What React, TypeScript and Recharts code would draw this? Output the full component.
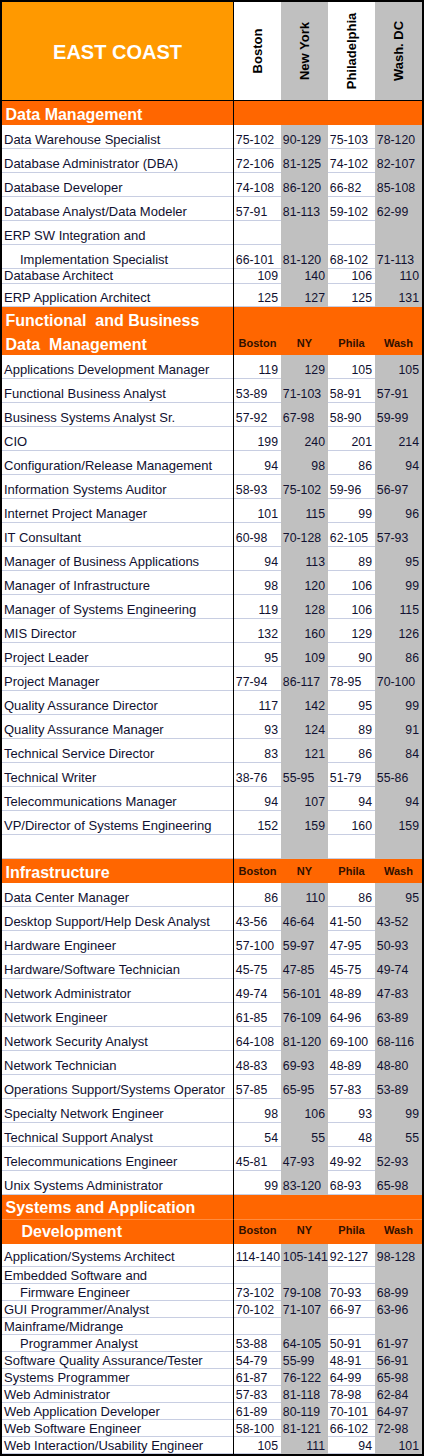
import { ScatterChart, Scatter, XAxis, YAxis } from "recharts";

const REGION = "EAST COAST";
const CITY_KEYS = ["boston", "ny", "phila", "wash"];
const CITY_NAMES = ["Boston", "New York", "Philadelphia", "Wash. DC"];
const CITY_SHORT = ["Boston", "NY", "Phila", "Wash"];

// Data Management
const DM_HEADING = ["Data Management"];
const DM_TITLES = [
  "Data Warehouse Specialist",
  "Database Administrator (DBA)",
  "Database Developer",
  "Database Analyst/Data Modeler",
  "ERP SW Integration and",
  "Implementation Specialist",
  "Database Architect",
  "ERP Application Architect",
];
const DM_BOSTON = ["75-102", "72-106", "74-108", "57-91", "", "66-101", "109", "125"];
const DM_NY = ["90-129", "81-125", "86-120", "81-113", "", "81-120", "140", "127"];
const DM_PHILA = ["75-103", "74-102", "66-82", "59-102", "", "68-102", "106", "125"];
const DM_WASH = ["78-120", "82-107", "85-108", "62-99", "", "71-113", "110", "131"];

// Functional and Business Data Management
const FB_HEADING = ["Functional  and Business", "Data  Management"];
const FB_TITLES = [
  "Applications Development Manager",
  "Functional Business Analyst",
  "Business Systems Analyst Sr.",
  "CIO",
  "Configuration/Release Management",
  "Information Systems Auditor",
  "Internet Project Manager",
  "IT Consultant",
  "Manager of Business Applications",
  "Manager of Infrastructure",
  "Manager of Systems Engineering",
  "MIS Director",
  "Project Leader",
  "Project Manager",
  "Quality Assurance Director",
  "Quality Assurance Manager",
  "Technical Service Director",
  "Technical Writer",
  "Telecommunications Manager",
  "VP/Director of Systems Engineering",
  "",
];
const FB_BOSTON = ["119", "53-89", "57-92", "199", "94", "58-93", "101", "60-98", "94", "98", "119", "132", "95", "77-94", "117", "93", "83", "38-76", "94", "152", ""];
const FB_NY = ["129", "71-103", "67-98", "240", "98", "75-102", "115", "70-128", "113", "120", "128", "160", "109", "86-117", "142", "124", "121", "55-95", "107", "159", ""];
const FB_PHILA = ["105", "58-91", "58-90", "201", "86", "59-96", "99", "62-105", "89", "106", "106", "129", "90", "78-95", "95", "89", "86", "51-79", "94", "160", ""];
const FB_WASH = ["105", "57-91", "59-99", "214", "94", "56-97", "96", "57-93", "95", "99", "115", "126", "86", "70-100", "99", "91", "84", "55-86", "94", "159", ""];

// Infrastructure
const INF_HEADING = ["Infrastructure"];
const INF_TITLES = [
  "Data Center Manager",
  "Desktop Support/Help Desk Analyst",
  "Hardware Engineer",
  "Hardware/Software Technician",
  "Network Administrator",
  "Network Engineer",
  "Network Security Analyst",
  "Network Technician",
  "Operations Support/Systems Operator",
  "Specialty Network Engineer",
  "Technical Support Analyst",
  "Telecommunications Engineer",
  "Unix Systems Administrator",
];
const INF_BOSTON = ["86", "43-56", "57-100", "45-75", "49-74", "61-85", "64-108", "48-83", "57-85", "98", "54", "45-81", "99"];
const INF_NY = ["110", "46-64", "59-97", "47-85", "56-101", "76-109", "81-120", "69-93", "65-95", "106", "55", "47-93", "83-120"];
const INF_PHILA = ["86", "41-50", "47-95", "45-75", "48-89", "64-96", "69-100", "48-89", "57-83", "93", "48", "49-92", "68-93"];
const INF_WASH = ["95", "43-52", "50-93", "49-74", "47-83", "63-89", "68-116", "48-80", "53-89", "99", "55", "52-93", "65-98"];

// Systems and Application Development
const SAD_HEADING = ["Systems and Application", "Development"];
const SAD_TITLES = [
  "Application/Systems Architect",
  "Embedded Software and",
  "Firmware Engineer",
  "GUI Programmer/Analyst",
  "Mainframe/Midrange",
  "Programmer Analyst",
  "Software Quality Assurance/Tester",
  "Systems Programmer",
  "Web Administrator",
  "Web Application Developer",
  "Web Software Engineer",
  "Web Interaction/Usability Engineer",
];
const SAD_BOSTON = ["114-140", "", "73-102", "70-102", "", "53-88", "54-79", "61-87", "57-83", "61-89", "58-100", "105"];
const SAD_NY = ["105-141", "", "79-108", "71-107", "", "64-105", "55-99", "76-122", "81-118", "80-119", "81-121", "111"];
const SAD_PHILA = ["92-127", "", "70-93", "66-97", "", "50-91", "48-91", "64-99", "78-98", "70-101", "66-102", "94"];
const SAD_WASH = ["98-128", "", "68-99", "63-96", "", "61-97", "56-91", "65-98", "62-84", "64-97", "72-98", "101"];

// second lines of wrapped titles, drawn indented
const INDENTED = ["Implementation Specialist", "Firmware Engineer", "Programmer Analyst", "Development"];

// layout: runs of rows sharing one height (px) and baseline padding
const TOP_RUNS = [{ n: 1, h: 99, pad: 5 }];
const DM_RUNS = [{ n: 7, h: 24, pad: 5 }, { n: 1, h: 15, pad: 4.5 }, { n: 1, h: 23, pad: 5 }];
const FB_RUNS = [{ n: 23, h: 24, pad: 5 }];
const INF_RUNS = [{ n: 14, h: 24, pad: 5 }];
const SAD_RUNS = [{ n: 2, h: 24.5, pad: 7 }, { n: 1, h: 23, pad: 6.5 }, { n: 11, h: 17, pad: 4 }];

const FONT = "'Liberation Sans', Arial, sans-serif";
const CHART_W = 420;
const LABEL_W = 232;
const COL_W = (CHART_W - LABEL_W) / CITY_KEYS.length;
const ORANGE_TOP = "#FF9900";
const ORANGE = "#FF6600";
const GREY = "#C0C0C0";
const RULE = "#C8CEE2";
const INK = "#101030";
const HEAD_INK = "#301000";

type Row = { title: string; kind: "top" | "head" | "item"; cells: string[] };
type Run = { n: number; h: number; pad: number };

const BLANK = ["", "", "", ""];

function sectionRows(heading: string[], cityLabels: boolean, titles: string[], cols: string[][]): Row[] {
  const rows: Row[] = heading.map((t, i) => ({
    title: t,
    kind: "head",
    cells: cityLabels && i === heading.length - 1 ? CITY_SHORT : BLANK,
  }));
  titles.forEach((t, i) => rows.push({ title: t, kind: "item", cells: cols.map((c) => c[i]) }));
  return rows;
}

function splitRuns(rows: Row[], runs: Run[]) {
  let i = 0;
  return runs.map((r) => {
    const part = rows.slice(i, i + r.n);
    i += r.n;
    return { ...r, rows: part };
  });
}

function LabelTick(props: any) {
  const { y, payload, rows, h, pad } = props;
  const row: Row | undefined = rows.find((r: Row) => r.title === payload.value);
  if (!row) return null;
  const top = y - h / 2;
  const bottom = y + h / 2;
  const indent = INDENTED.includes(row.title) ? 16 : 0;
  if (row.kind === "top") {
    return (
      <g>
        <rect x={0} y={top} width={LABEL_W - 1} height={h - 1} fill={ORANGE_TOP} />
        <rect x={0} y={bottom - 1} width={LABEL_W} height={1} fill="#000" />
        <rect x={LABEL_W - 1} y={top} width={1} height={h} fill="#000" />
        <text x={(LABEL_W - 1) / 2} y={y + 7} textAnchor="middle" fontFamily={FONT} fontSize={20} fontWeight="bold" fill="#fff">
          {row.title}
        </text>
      </g>
    );
  }
  if (row.kind === "head") {
    return (
      <g>
        <rect x={0} y={top} width={LABEL_W} height={h} fill={ORANGE} />
        <rect x={LABEL_W - 1} y={top} width={1} height={h} fill="#000" />
        <text x={3.5 + indent} y={bottom - pad} fontFamily={FONT} fontSize={16} fontWeight="bold" fill="#fff" style={{ whiteSpace: "pre" }}>
          {row.title}
        </text>
      </g>
    );
  }
  return (
    <g>
      <rect x={0} y={top} width={LABEL_W} height={h} fill="#fff" />
      <rect x={0} y={bottom - 1} width={LABEL_W - 1} height={1} fill={RULE} />
      <rect x={LABEL_W - 1} y={top} width={1} height={h} fill="#000" />
      <text x={2 + indent} y={bottom - pad} fontFamily={FONT} fontSize={13} fill={INK}>
        {row.title}
      </text>
    </g>
  );
}

function TableCell(props: any) {
  const { cx, cy, payload, h, pad } = props;
  if (cx == null || cy == null) return null;
  const left = cx - COL_W / 2;
  const top = cy - h / 2;
  const bottom = cy + h / 2;
  const shaded = payload.col % 2 === 1;
  const fill = shaded ? GREY : "#fff";
  if (payload.kind === "top") {
    return (
      <g>
        <rect x={left} y={top} width={COL_W} height={h - 1} fill={fill} />
        <rect x={left} y={bottom - 1} width={COL_W} height={1} fill="#000" />
        <text
          transform={`translate(${cx + 4.7},${cy - 0.5}) rotate(-90)`}
          textAnchor="middle"
          fontFamily={FONT}
          fontSize={13}
          fontWeight="bold"
          fill="#000"
        >
          {payload.text}
        </text>
      </g>
    );
  }
  if (payload.kind === "head") {
    return (
      <g>
        <rect x={left} y={top} width={COL_W} height={h} fill={ORANGE} />
        <text x={cx} y={bottom - pad - 3} textAnchor="middle" fontFamily={FONT} fontSize={11} fontWeight="bold" fill={HEAD_INK}>
          {payload.text}
        </text>
      </g>
    );
  }
  const isRange = payload.text.includes("-");
  return (
    <g>
      <rect x={left} y={top} width={COL_W} height={h} fill={fill} />
      {!shaded && <rect x={left} y={bottom - 1} width={COL_W} height={1} fill={RULE} />}
      <text
        x={isRange ? left + 1.8 : left + COL_W - 3}
        y={bottom - pad}
        textAnchor={isRange ? "start" : "end"}
        fontFamily={FONT}
        fontSize={12.3}
        fill={INK}
      >
        {payload.text}
      </text>
    </g>
  );
}

function RunChart({ rows, h, pad }: { rows: Row[]; h: number; pad: number }) {
  const data = rows.flatMap((r) =>
    CITY_KEYS.map((k, c) => ({ title: r.title, city: k, col: c, text: r.cells[c], kind: r.kind }))
  );
  return (
    <ScatterChart width={CHART_W} height={rows.length * h} margin={{ top: 0, right: 0, bottom: 0, left: 0 }}>
      <XAxis type="category" dataKey="city" allowDuplicatedCategory={false} hide />
      <YAxis
        type="category"
        dataKey="title"
        allowDuplicatedCategory={false}
        width={LABEL_W}
        reversed
        interval={0}
        axisLine={false}
        tickLine={false}
        tick={(p: any) => <LabelTick {...p} rows={rows} h={h} pad={pad} />}
      />
      <Scatter
        data={data}
        isAnimationActive={false}
        shape={(p: any) => <TableCell {...p} h={h} pad={pad} />}
      />
    </ScatterChart>
  );
}

const TOP_ROWS: Row[] = [{ title: REGION, kind: "top", cells: CITY_NAMES }];
const DM_ROWS = sectionRows(DM_HEADING, false, DM_TITLES, [DM_BOSTON, DM_NY, DM_PHILA, DM_WASH]);
const FB_ROWS = sectionRows(FB_HEADING, true, FB_TITLES, [FB_BOSTON, FB_NY, FB_PHILA, FB_WASH]);
const INF_ROWS = sectionRows(INF_HEADING, true, INF_TITLES, [INF_BOSTON, INF_NY, INF_PHILA, INF_WASH]);
const SAD_ROWS = sectionRows(SAD_HEADING, true, SAD_TITLES, [SAD_BOSTON, SAD_NY, SAD_PHILA, SAD_WASH]);

const RUNS = [
  ...splitRuns(TOP_ROWS, TOP_RUNS),
  ...splitRuns(DM_ROWS, DM_RUNS),
  ...splitRuns(FB_ROWS, FB_RUNS),
  ...splitRuns(INF_ROWS, INF_RUNS),
  ...splitRuns(SAD_ROWS, SAD_RUNS),
];

export default function App() {
  return (
    <div style={{ width: CHART_W, border: "2px solid #000", background: "#fff" }}>
      <style>{"body{margin:0} .recharts-wrapper, .recharts-surface{overflow:visible}"}</style>
      {RUNS.map((run, i) => (
        <RunChart key={i} rows={run.rows} h={run.h} pad={run.pad} />
      ))}
    </div>
  );
}
